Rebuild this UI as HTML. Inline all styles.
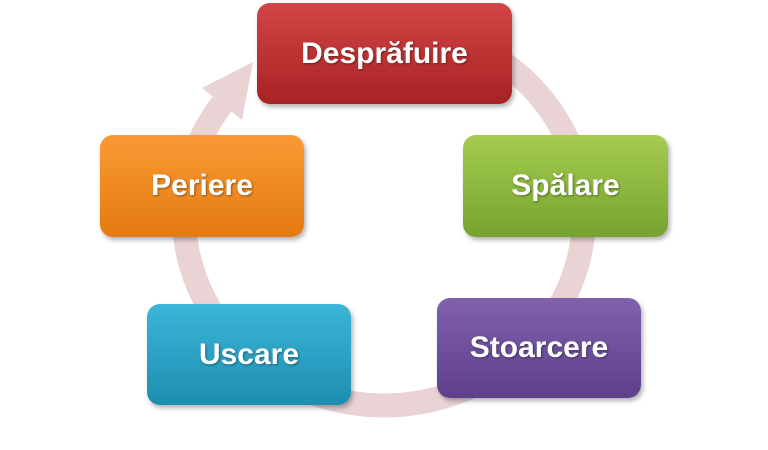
<!DOCTYPE html>
<html><head><meta charset="utf-8"><style>
body{margin:0;width:768px;height:450px;background:#fff;position:relative;overflow:hidden;font-family:"Liberation Sans",sans-serif}
.b{position:absolute;border-radius:13px;color:#fff;font-weight:bold;font-size:30px;display:flex;align-items:center;justify-content:center;box-shadow:2px 3px 5px rgba(0,0,0,.3);text-shadow:1px 1px 2px rgba(0,0,0,.4)}
</style></head><body>
<svg width="768" height="450" style="position:absolute;left:0;top:0">
<path d="M222 104 A200 190 0 1 0 300.5 42.8" fill="none" stroke="#ead3d4" stroke-width="24"/>
<polygon points="253,62 242,120 202,88" fill="#ead3d4"/>
</svg>
<div class="b" style="left:257px;top:3px;width:255px;height:101px;background:linear-gradient(#d24546,#a82223)">Desprăfuire</div>
<div class="b" style="left:463px;top:135px;width:205px;height:102px;background:linear-gradient(#a5cc50,#76a330)">Spălare</div>
<div class="b" style="left:437px;top:298px;width:204px;height:100px;background:linear-gradient(#8061ae,#5e3f8c)">Stoarcere</div>
<div class="b" style="left:147px;top:304px;width:204px;height:101px;background:linear-gradient(#3cb5d8,#1e8eb0)">Uscare</div>
<div class="b" style="left:100px;top:135px;width:204px;height:102px;background:linear-gradient(#fa9a35,#e47a12)">Periere</div>
</body></html>
